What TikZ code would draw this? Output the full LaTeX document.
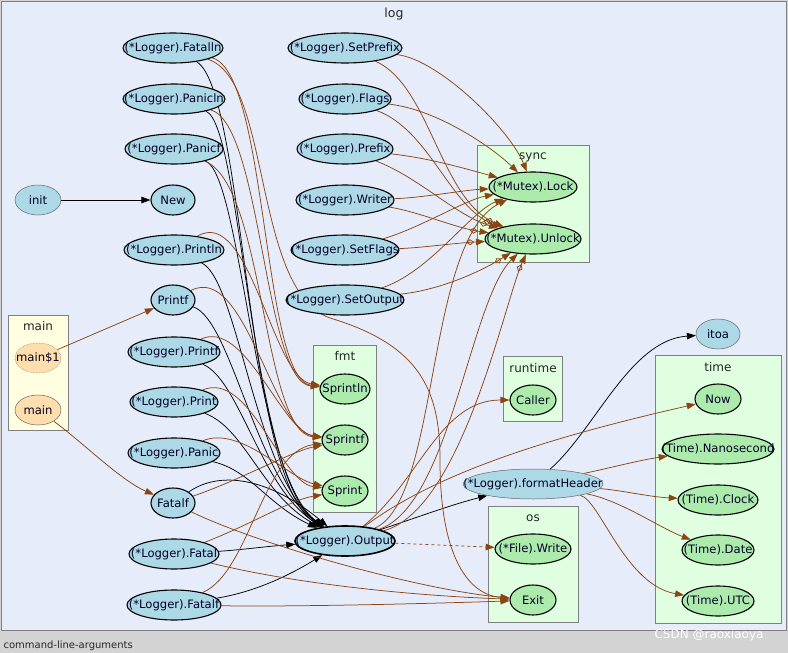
\documentclass[tikz,border=0pt]{standalone}
\usepackage{fontspec}
\setmainfont{DejaVu Sans}
\usetikzlibrary{shapes.geometric,arrows.meta}
\definecolor{logbg}{HTML}{E6ECFA}
\definecolor{lblue}{HTML}{ADD8E6}
\definecolor{lgreen}{HTML}{ADEBAD}
\definecolor{clgreen}{HTML}{E0FFE0}
\definecolor{peach}{HTML}{FFDEAD}
\definecolor{lyellow}{HTML}{FFFEE0}
\definecolor{brn}{HTML}{8B4513}
\definecolor{barbg}{HTML}{D3D3D3}
\pgfdeclarelayer{back}
\pgfdeclarelayer{edges}
\pgfsetlayers{back,edges,main}
\begin{document}
\begin{tikzpicture}[x=1pt,y=-1pt]
\tikzset{
  fn/.style={ellipse, draw=black, line width=1.1pt, fill=lblue, minimum height=30pt, inner sep=0pt, font=\fontsize{11.6}{13}\selectfont, text=black!85!blue},
  fnthin/.style={fn, line width=0.5pt, draw=black!60},
  ext/.style={fn, fill=lgreen},
  mainfn/.style={fn, fill=peach, line width=0.5pt, draw=black!60},
  clus/.style={draw=gray, line width=1pt, fill=clgreen},
  ctitle/.style={font=\fontsize{12}{14}\selectfont, text=black!85},
  tipa/.style={-{Triangle[length=9pt,width=6.5pt]}},
  be/.style={draw=brn, line width=0.75pt, tipa},
  ke/.style={draw=black, line width=0.75pt, tipa},
  de/.style={draw=brn, line width=0.75pt, -{Diamond[open,length=8pt,width=6pt,sep=2pt]Triangle[length=9pt,width=6.5pt]}},
  dse/.style={be, dashed}
}
\useasboundingbox (0,0) rectangle (788,653);
\begin{pgfonlayer}{back}
\fill[barbg] (0,0) rectangle (788,653);
\draw[gray, fill=logbg, line width=1pt] (1.5,1.5) rectangle (786.5,630);
\node[font=\fontsize{12.5}{14}\selectfont, text=black!85] (tlog) at (394,14) {log};
\node[anchor=west, font=\fontsize{10}{12}\selectfont, text=black!85] (tcla) at (0,646) {command-line-arguments};
\node[font=\fontsize{12}{14}\selectfont, text=white] (wm) at (709,635) {CSDN @raoxiaoya};
\draw[gray, line width=1pt, fill=lyellow] (8,315) rectangle (68,430);
\node[ctitle] (tmain) at (38,326) {main};
\draw[clus] (477,145) rectangle (589,262);
\node[ctitle] (tsync) at (533,157) {sync};
\draw[clus] (313,345) rectangle (376,512);
\node[ctitle] (tfmt) at (345,356) {fmt};
\draw[clus] (503,356) rectangle (562,421);
\node[ctitle] (trt) at (533,368) {runtime};
\draw[clus] (488,506) rectangle (578,622);
\node[ctitle] (tos) at (533,518) {os};
\draw[clus] (655,355) rectangle (781,623);
\node[ctitle] (ttime) at (718,367) {time};
\end{pgfonlayer}

% left column
\node[fn, minimum width=100pt] (FatalIn) at (173,48) {\makebox[0pt]{(*Logger).Fatalln}};
\node[fn, minimum width=102pt] (PanicIn) at (174,99) {\makebox[0pt]{(*Logger).Panicln}};
\node[fn, minimum width=98pt] (Panicf) at (174,149) {\makebox[0pt]{(*Logger).Panicf}};
\node[fnthin, minimum width=46pt] (init) at (38,200) {\makebox[0pt]{init}};
\node[fn, minimum width=44pt] (New) at (173,200) {\makebox[0pt]{New}};
\node[fn, minimum width=100pt] (Println) at (174,250) {\makebox[0pt]{(*Logger).Println}};
\node[fn, minimum width=44pt] (Printf) at (173,300) {\makebox[0pt]{Printf}};
\node[fn, minimum width=92pt] (LPrintf) at (174,352) {\makebox[0pt]{(*Logger).Printf}};
\node[fn, minimum width=88pt] (LPrint) at (174,402) {\makebox[0pt]{(*Logger).Print}};
\node[fn, minimum width=92pt] (LPanic) at (174,453) {\makebox[0pt]{(*Logger).Panic}};
\node[fn, minimum width=44pt] (Fatalf) at (173,503) {\makebox[0pt]{Fatalf}};
\node[fn, minimum width=90pt] (LFatal) at (174,554) {\makebox[0pt]{(*Logger).Fatal}};
\node[fn, minimum width=94pt] (LFatalf) at (174,605) {\makebox[0pt]{(*Logger).Fatalf}};
\node[mainfn, densely dotted, minimum width=46pt] (main1) at (38,358) {\makebox[0pt]{main\$1}};
\node[mainfn, minimum width=46pt] (main) at (38,410) {\makebox[0pt]{main}};

% middle column
\node[fn, minimum width=114pt] (SetPrefix) at (345,48) {\makebox[0pt]{(*Logger).SetPrefix}};
\node[fn, minimum width=92pt] (Flags) at (345,99) {\makebox[0pt]{(*Logger).Flags}};
\node[fn, minimum width=96pt] (Prefix) at (345,149) {\makebox[0pt]{(*Logger).Prefix}};
\node[fn, minimum width=98pt] (Writer) at (345,200) {\makebox[0pt]{(*Logger).Writer}};
\node[fn, minimum width=108pt] (SetFlags) at (345,250) {\makebox[0pt]{(*Logger).SetFlags}};
\node[fn, minimum width=118pt] (SetOutput) at (345,300) {\makebox[0pt]{(*Logger).SetOutput}};
\node[ext, minimum width=50pt] (Sprintln) at (345,389) {\makebox[0pt]{Sprintln}};
\node[ext, minimum width=46pt] (Sprintf) at (345,440) {\makebox[0pt]{Sprintf}};
\node[ext, minimum width=46pt] (Sprint) at (345,491) {\makebox[0pt]{Sprint}};
\node[fn, line width=1.6pt, minimum width=100pt] (Output) at (345,541) {\makebox[0pt]{(*Logger).Output}};

% right part
\node[ext, minimum width=88pt] (Lock) at (533,187) {\makebox[0pt]{(*Mutex).Lock}};
\node[ext, minimum width=96pt] (Unlock) at (533,239) {\makebox[0pt]{(*Mutex).Unlock}};
\node[ext, minimum width=46pt] (Caller) at (533,400) {\makebox[0pt]{Caller}};
\node[fnthin, minimum width=140pt] (fmtH) at (533,484) {\makebox[0pt]{(*Logger).formatHeader}};
\node[ext, minimum width=76pt] (Write) at (533,549) {\makebox[0pt]{(*File).Write}};
\node[ext, minimum width=46pt] (Exit) at (533,600) {\makebox[0pt]{Exit}};
\node[fnthin, minimum width=44pt] (itoa) at (718,334) {\makebox[0pt]{itoa}};
\node[ext, minimum width=46pt] (Now) at (718,399) {\makebox[0pt]{Now}};
\node[ext, minimum width=112pt] (Nano) at (718,449) {\makebox[0pt]{(Time).Nanosecond}};
\node[ext, minimum width=80pt] (Clock) at (718,500) {\makebox[0pt]{(Time).Clock}};
\node[ext, minimum width=72pt] (Date) at (718,550) {\makebox[0pt]{(Time).Date}};
\node[ext, minimum width=72pt] (UTC) at (718,601) {\makebox[0pt]{(Time).UTC}};

\begin{pgfonlayer}{edges}
% black edges
\draw[ke] (init) -- (New);
\draw[ke] (FatalIn) .. controls (245,90) and (245,480) .. (Output);
\draw[ke] (PanicIn) .. controls (242,125) and (250,478) .. (Output);
\draw[ke] (Panicf) .. controls (242,175) and (254,478) .. (Output);
\draw[ke] (Println) .. controls (238,280) and (256,480) .. (Output);
\draw[ke] (Printf) .. controls (232,320) and (256,482) .. (Output);
\draw[ke] (LPrintf) .. controls (240,380) and (260,488) .. (Output);
\draw[ke] (LPrint) .. controls (245,428) and (262,495) .. (Output);
\draw[ke] (LPanic) .. controls (250,470) and (268,505) .. (Output);
\draw[ke] (Fatalf) .. controls (220,470) and (270,478) .. (Output);
\draw[ke] (LFatal) .. controls (240,550) and (270,546) .. (Output);
\draw[ke] (LFatalf) .. controls (255,592) and (290,575) .. (Output);
\draw[ke] (Output) .. controls (410,520) and (450,505) .. (fmtH);
\draw[ke] (fmtH) .. controls (595,430) and (630,340) .. (itoa);

% main edges
\draw[be] (main1) -- (Printf);
\draw[be] (main) .. controls (80,440) and (120,480) .. (Fatalf);

% fmt edges
\draw[be] (FatalIn) .. controls (268,72) and (262,380) .. (Sprintln);
\draw[be] (PanicIn) .. controls (262,125) and (264,382) .. (Sprintln);
\draw[be] (Panicf) .. controls (265,185) and (262,432) .. (Sprintf);
\draw[be] (Println) .. controls (250,205) and (272,378) .. (Sprintln);
\draw[be] (Printf) .. controls (245,262) and (272,430) .. (Sprintf);
\draw[be] (LPrintf) .. controls (245,318) and (282,432) .. (Sprintf);
\draw[be] (LPrint) .. controls (250,370) and (280,482) .. (Sprint);
\draw[be] (LPanic) .. controls (240,425) and (288,478) .. (Sprint);
\draw[be] (Fatalf) .. controls (240,480) and (290,452) .. (Sprintf);
\draw[be] (LFatal) .. controls (250,525) and (290,500) .. (Sprint);
\draw[be] (LFatalf) .. controls (250,572) and (262,452) .. (Sprintf);

% exit edges
\draw[be] (FatalIn) .. controls (272,80) and (252,290) .. (330,318) .. controls (420,345) and (440,390) .. (440,460) .. controls (440,560) and (470,595) .. (Exit);
\draw[be] (Fatalf) .. controls (260,545) and (420,590) .. (Exit);
\draw[be] (LFatal) .. controls (300,585) and (420,596) .. (Exit);
\draw[be] (LFatalf) .. controls (300,607) and (450,603) .. (Exit);

% sync edges
\draw[be] (SetPrefix) .. controls (440,60) and (510,130) .. (Lock);
\draw[de] (SetPrefix) .. controls (430,85) and (440,200) .. (Unlock);
\draw[be] (Flags) .. controls (440,110) and (495,150) .. (Lock);
\draw[de] (Flags) .. controls (430,130) and (450,208) .. (Unlock);
\draw[be] (Prefix) .. controls (430,158) and (470,170) .. (Lock);
\draw[de] (Prefix) .. controls (420,178) and (455,215) .. (Unlock);
\draw[be] (Writer) .. controls (420,198) and (465,190) .. (Lock);
\draw[de] (Writer) .. controls (420,212) and (455,228) .. (Unlock);
\draw[be] (SetFlags) .. controls (420,228) and (465,200) .. (Lock);
\draw[de] (SetFlags) .. controls (420,248) and (455,243) .. (Unlock);
\draw[be] (SetOutput) .. controls (430,272) and (470,212) .. (Lock);
\draw[de] (SetOutput) .. controls (440,290) and (480,272) .. (Unlock);
\draw[be] (Output) .. controls (440,500) and (425,240) .. (Lock);
\draw[be] (Output) .. controls (450,505) and (470,300) .. (Unlock);
\draw[de] (Output) .. controls (462,510) and (505,300) .. (Unlock);

% other output edges
\draw[be] (Output) .. controls (420,480) and (440,400) .. (Caller);
\draw[be] (Output) .. controls (440,470) and (560,435) .. (Now);
\draw[dse] (Output) -- (Write);

% time edges
\draw[be] (fmtH) .. controls (610,468) and (640,460) .. (Nano);
\draw[be] (fmtH) .. controls (620,490) and (650,497) .. (Clock);
\draw[be] (fmtH) .. controls (620,500) and (660,528) .. (Date);
\draw[be] (fmtH) .. controls (600,500) and (625,585) .. (UTC);
\end{pgfonlayer}
\end{tikzpicture}
\end{document}
